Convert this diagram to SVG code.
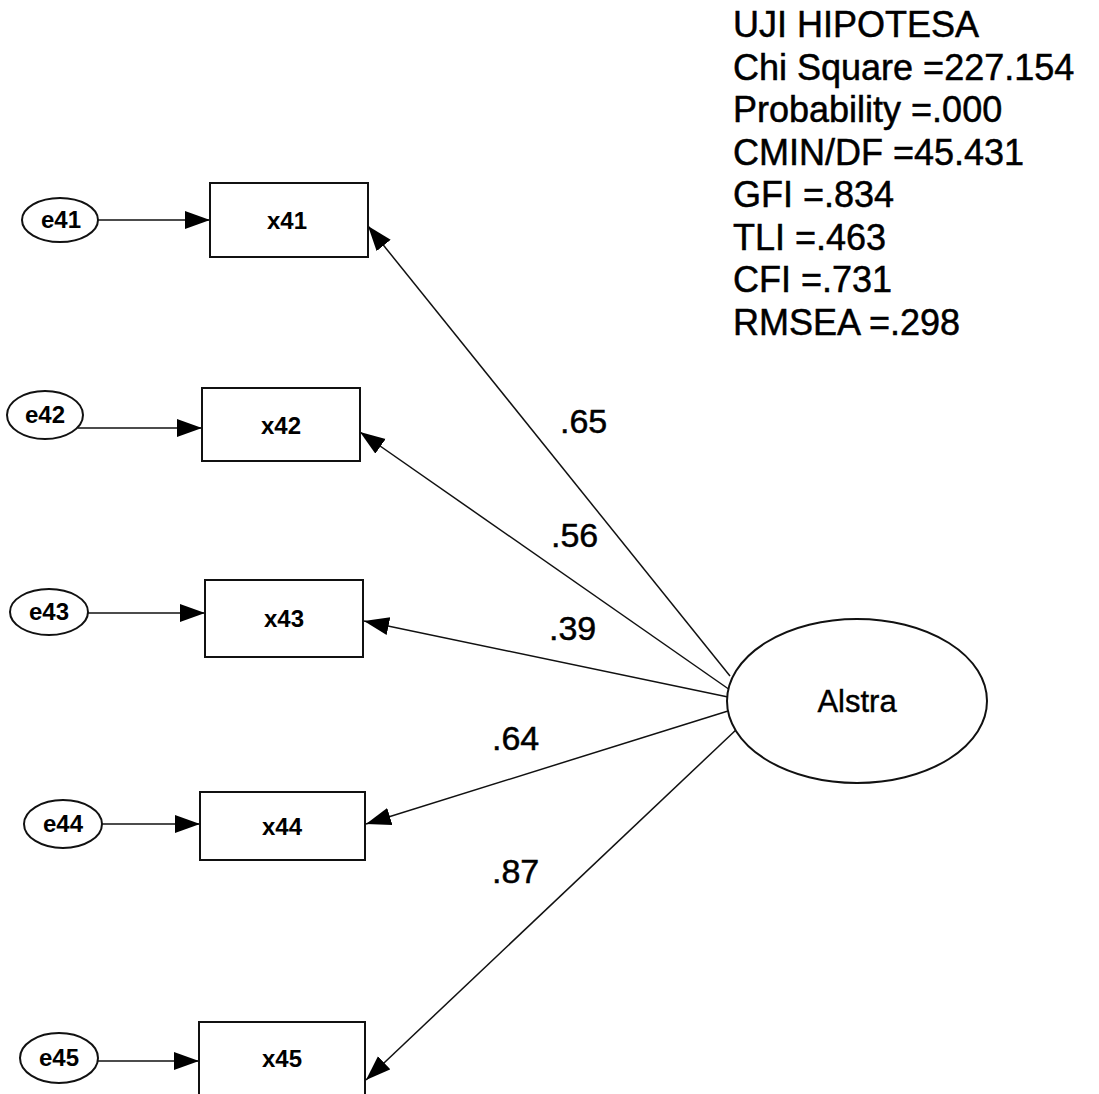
<svg xmlns="http://www.w3.org/2000/svg" width="1099" height="1094" viewBox="0 0 1099 1094">
<style>
  .bg{fill:#fff}
  .box{fill:#fff;stroke:#111;stroke-width:2}
  .ell{fill:#fff;stroke:#111;stroke-width:2}
  .lbl{font-family:"Liberation Sans",Arial,sans-serif;fill:#000;text-anchor:middle;stroke:#000;stroke-width:0.4}
  .node{font-size:24px;font-weight:bold;stroke-width:0}
  .coef{font-family:"Liberation Sans",Arial,sans-serif;font-size:34px;fill:#000;stroke:#000;stroke-width:0.5}
  .stats{font-family:"Liberation Sans",Arial,sans-serif;font-size:36px;fill:#000;stroke:#000;stroke-width:0.5}
  .conn{stroke:#111;stroke-width:1.5;fill:none}
</style>
<defs>
  <marker id="ah" markerUnits="userSpaceOnUse" markerWidth="26" markerHeight="20" refX="25" refY="9" orient="auto">
    <path d="M0,0 L25,9 L0,18 z" fill="#000"/>
  </marker>
</defs>
<rect class="bg" x="0" y="0" width="1099" height="1094"/>

<g id="connectors">
  <line class="conn" x1="98" y1="220" x2="210" y2="220" marker-end="url(#ah)"/>
  <line class="conn" x1="78" y1="428" x2="202" y2="428" marker-end="url(#ah)"/>
  <line class="conn" x1="88" y1="613" x2="205" y2="613" marker-end="url(#ah)"/>
  <line class="conn" x1="102" y1="824" x2="200" y2="824" marker-end="url(#ah)"/>
  <line class="conn" x1="97" y1="1061" x2="199" y2="1061" marker-end="url(#ah)"/>
  <line class="conn" x1="730" y1="676" x2="368" y2="226" marker-end="url(#ah)"/>
  <line class="conn" x1="730" y1="690" x2="360" y2="432" marker-end="url(#ah)"/>
  <line class="conn" x1="728" y1="697" x2="364" y2="621" marker-end="url(#ah)"/>
  <line class="conn" x1="728" y1="711" x2="366" y2="824" marker-end="url(#ah)"/>
  <line class="conn" x1="738" y1="728" x2="366" y2="1080" marker-end="url(#ah)"/>
</g>

<g id="e41"><ellipse class="ell" cx="60" cy="220" rx="38" ry="22"/><text class="lbl node" x="61" y="228">e41</text></g>
<g id="e42"><ellipse class="ell" cx="45" cy="415" rx="38" ry="24"/><text class="lbl node" x="45" y="423">e42</text></g>
<g id="e43"><ellipse class="ell" cx="49" cy="612" rx="39" ry="23"/><text class="lbl node" x="49" y="620">e43</text></g>
<g id="e44"><ellipse class="ell" cx="63" cy="824" rx="39" ry="24"/><text class="lbl node" x="63" y="832">e44</text></g>
<g id="e45"><ellipse class="ell" cx="59" cy="1058" rx="39" ry="25"/><text class="lbl node" x="59" y="1066">e45</text></g>

<g id="x41"><rect class="box" x="210" y="183" width="158" height="74"/><text class="lbl node" x="287" y="229">x41</text></g>
<g id="x42"><rect class="box" x="202" y="388" width="158" height="73"/><text class="lbl node" x="281" y="434">x42</text></g>
<g id="x43"><rect class="box" x="205" y="580" width="158" height="77"/><text class="lbl node" x="284" y="627">x43</text></g>
<g id="x44"><rect class="box" x="200" y="792" width="165" height="68"/><text class="lbl node" x="282" y="835">x44</text></g>
<g id="x45"><rect class="box" x="199" y="1022" width="166" height="80"/><text class="lbl node" x="282" y="1067">x45</text></g>

<g id="Alstra"><ellipse class="ell" cx="857" cy="701" rx="130" ry="82"/><text class="lbl" x="857" y="712" font-size="31">Alstra</text></g>

<g id="coefficients">
  <text class="coef" x="560" y="433">.65</text>
  <text class="coef" x="551" y="547">.56</text>
  <text class="coef" x="549" y="640">.39</text>
  <text class="coef" x="492" y="750">.64</text>
  <text class="coef" x="492" y="883">.87</text>
</g>

<g id="fit-stats">
  <text class="stats" x="733" y="37">UJI HIPOTESA</text>
  <text class="stats" x="733" y="80">Chi Square =227.154</text>
  <text class="stats" x="733" y="122">Probability =.000</text>
  <text class="stats" x="733" y="165">CMIN/DF =45.431</text>
  <text class="stats" x="733" y="207">GFI =.834</text>
  <text class="stats" x="733" y="250">TLI =.463</text>
  <text class="stats" x="733" y="292">CFI =.731</text>
  <text class="stats" x="733" y="335">RMSEA =.298</text>
</g>
</svg>
